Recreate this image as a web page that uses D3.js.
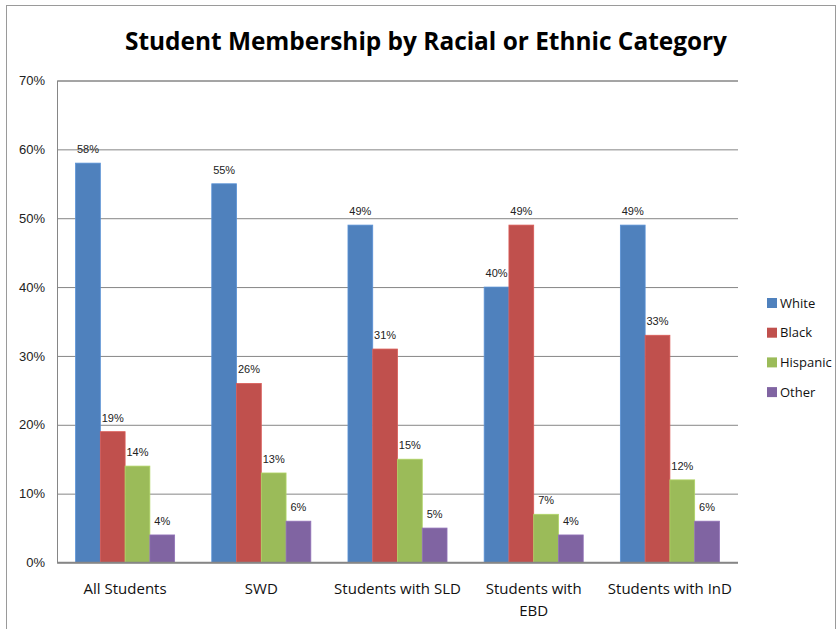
<!DOCTYPE html>
<html>
<head>
<meta charset="utf-8">
<script src="https://cdn.jsdelivr.net/npm/d3@7"></script>
<style>
  html, body { margin: 0; padding: 0; background: #fff; }
  svg { display: block; }
</style>
</head>
<body>
<svg id="chart" width="838" height="629"></svg>
<script>
// Share of students by racial / ethnic category in each group
const categories = [["All Students"], ["SWD"], ["Students with SLD"], ["Students with", "EBD"], ["Students with InD"]];
const seriesNames = ["White", "Black", "Hispanic", "Other"];
const white    = [58, 55, 49, 40, 49];
const black    = [19, 26, 31, 49, 33];
const hispanic = [14, 13, 15, 7, 12];
const other    = [4, 6, 5, 4, 6];
const yTicks = [0, 10, 20, 30, 40, 50, 60, 70];
const colors = ["#4F81BD", "#C0504D", "#9BBB59", "#8064A2"];

const series = [white, black, hispanic, other];
const svg = d3.select("#chart");

// outer frame
svg.append("rect").attr("x", 6.5).attr("y", 5.5).attr("width", 829).attr("height", 640)
  .attr("fill", "none").attr("stroke", "#9a9a9a").attr("stroke-width", 1);

const plot = { left: 57, right: 738, top: 80.5, bottom: 562.5 };

const x0 = d3.scaleBand().domain(d3.range(categories.length)).range([plot.left, plot.right]);
// gap width 150%: 4 bars + 1.5 bar widths of spacing per category
const bw = x0.bandwidth() / 5.5;
const y = d3.scaleLinear().domain([0, 70]).range([plot.bottom, plot.top]);

// gridlines
const yAxis = d3.axisLeft(y).tickValues(yTicks).tickSize(-(plot.right - plot.left))
  .tickFormat(d => d + "%").tickPadding(12);
const gy = svg.append("g").attr("transform", `translate(${plot.left},0)`).call(yAxis);
gy.select(".domain").attr("stroke", "#868686");
gy.selectAll(".tick line").attr("stroke", "#868686").attr("stroke-width", 1);
gy.selectAll(".tick text").attr("font-family", "Liberation Sans, Arial, sans-serif")
  .attr("font-size", 13).attr("fill", "#222");

// bars
series.forEach((vals, si) => {
  const g = svg.append("g");
  g.selectAll("rect").data(vals).join("rect")
    .attr("x", (d, i) => x0(i) + bw * 0.75 + si * bw)
    .attr("y", d => y(d))
    .attr("width", bw)
    .attr("height", d => y(0) - y(d))
    .attr("fill", colors[si])
    .attr("stroke", d3.color(colors[si]).brighter(0.35))
    .attr("stroke-width", 0.8);
  g.selectAll("text").data(vals).join("text")
    .attr("x", (d, i) => x0(i) + bw * 0.75 + si * bw + bw / 2)
    .attr("y", d => y(d) - 10)
    .attr("text-anchor", "middle")
    .attr("font-family", "Liberation Sans, Arial, sans-serif")
    .attr("font-size", 11).attr("fill", "#222")
    .text(d => d + "%");
});

// baseline
svg.append("line").attr("x1", plot.left).attr("x2", plot.right)
  .attr("y1", y(0)).attr("y2", y(0)).attr("stroke", "#868686").attr("stroke-width", 1.5);

// category labels
categories.forEach((lines, i) => {
  const t = svg.append("text")
    .attr("x", x0(i) + x0.bandwidth() / 2)
    .attr("y", 594)
    .attr("text-anchor", "middle")
    .attr("font-family", "Open Sans, sans-serif")
    .attr("font-size", 15).attr("fill", "#111");
  lines.forEach((l, k) => t.append("tspan").attr("x", x0(i) + x0.bandwidth() / 2)
    .attr("dy", k === 0 ? 0 : 22).text(l));
});

// title
svg.append("text").attr("x", 426).attr("y", 50).attr("text-anchor", "middle")
  .attr("font-family", "Open Sans, sans-serif").attr("font-weight", "bold")
  .attr("font-size", 25).attr("fill", "#000")
  .attr("textLength", 602).attr("lengthAdjust", "spacingAndGlyphs")
  .text("Student Membership by Racial or Ethnic Category");

// legend
const leg = svg.append("g");
seriesNames.forEach((n, i) => {
  const yy = 303 + i * 29.7;
  leg.append("rect").attr("x", 767).attr("y", yy - 5).attr("width", 10).attr("height", 10)
    .attr("fill", colors[i]);
  leg.append("text").attr("x", 780).attr("y", yy + 4.5)
    .attr("font-family", "Open Sans, sans-serif").attr("font-size", 13).attr("fill", "#111")
    .text(n);
});
</script>
</body>
</html>
